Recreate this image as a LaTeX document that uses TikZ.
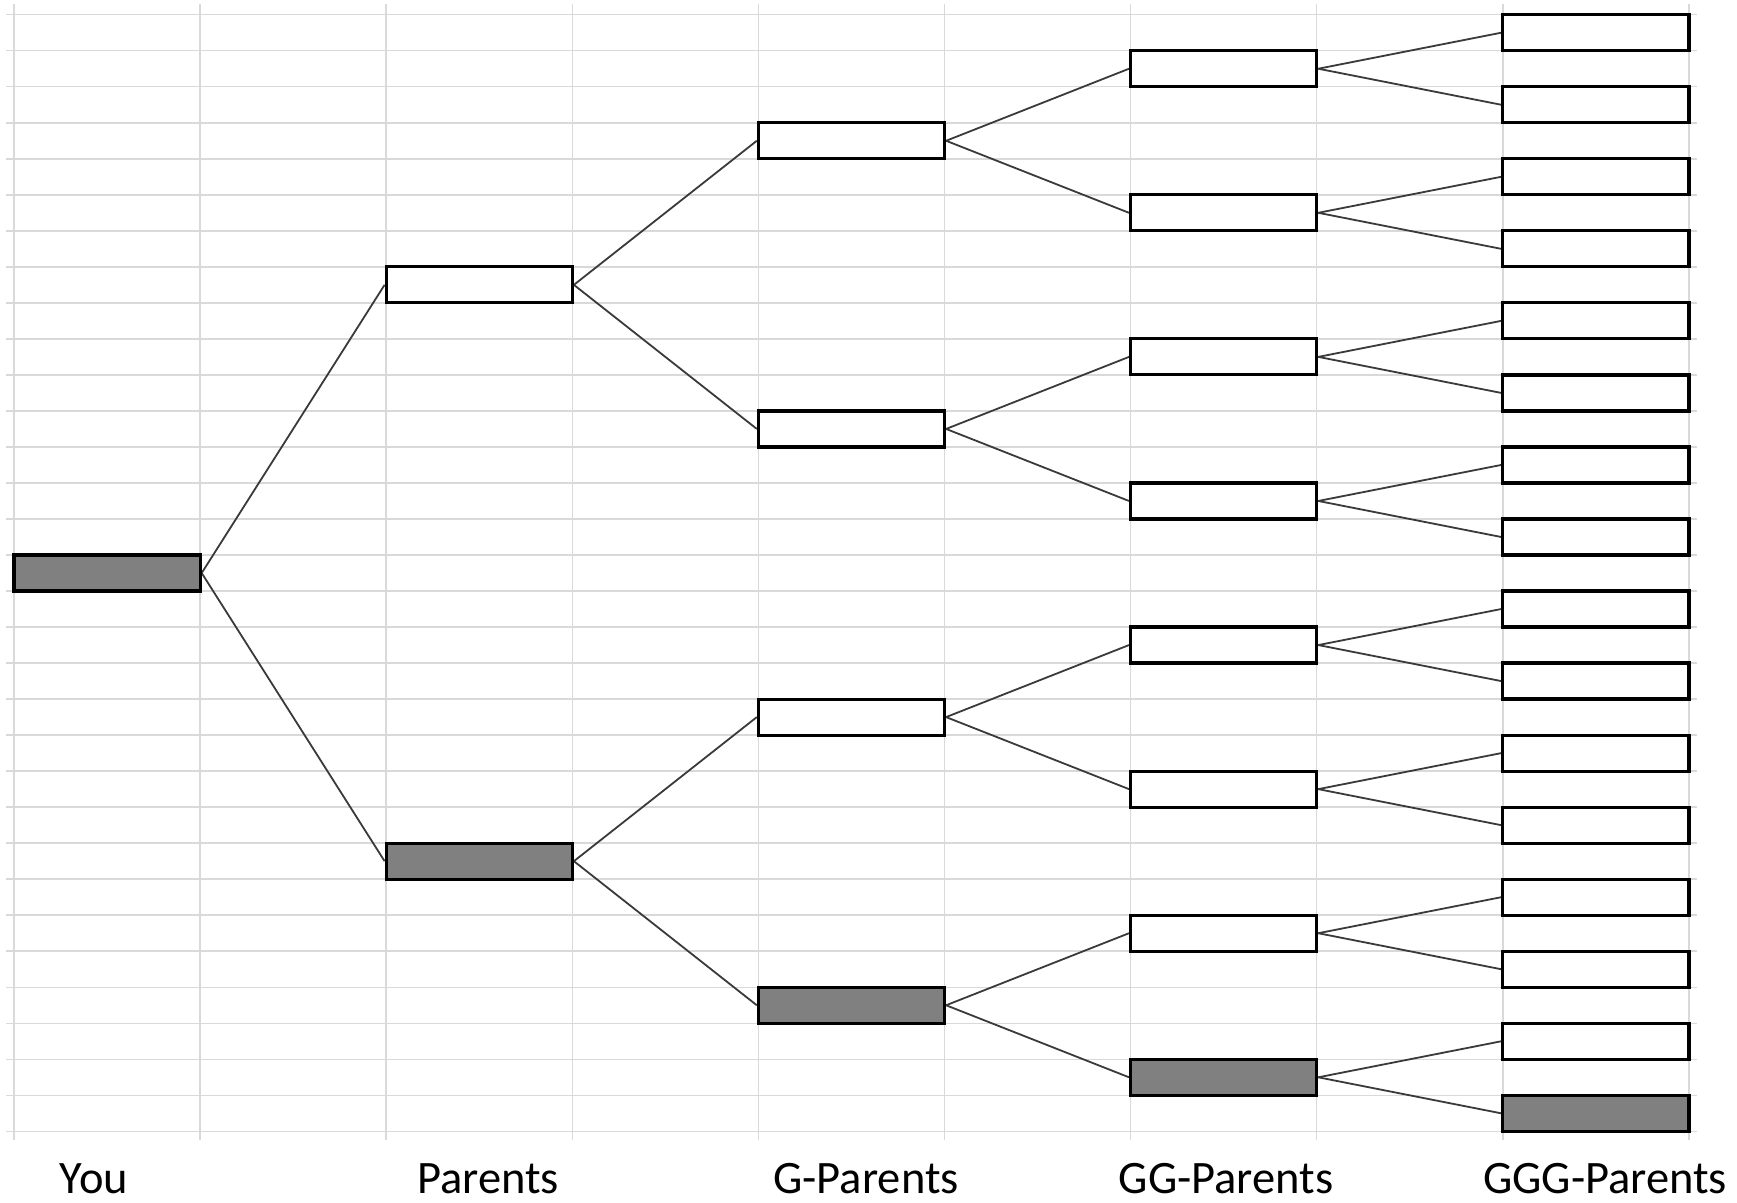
\documentclass[tikz,border=0pt]{standalone}
\usepackage{fontspec}
\setmainfont{Carlito}
\usetikzlibrary{backgrounds}
\definecolor{gridgray}{HTML}{D9D9D9}
\definecolor{boxgray}{HTML}{808080}
\definecolor{linkgray}{HTML}{3A3A3A}
\begin{document}
\begin{tikzpicture}[x=1pt,y=-1pt,
  gridline/.style={draw=gridgray,line width=1.5pt},
  cell/.style={draw=black,line width=3.2pt,minimum width=186.1pt,minimum height=36pt,inner sep=0pt,fill=white},
  filled/.style={cell,fill=boxgray},
  link/.style={draw=linkgray,line width=1.8pt},
  lbl/.style={font=\fontsize{46.5}{50}\selectfont,anchor=base,inner sep=0pt,text depth=0pt}]
\useasboundingbox (0,0) rectangle (1737,1202);
% boxes
\node[filled] (you) at (107.05,573.01) {};
\node[cell] (p0) at (479.25,284.85) {};
\node[filled] (p1) at (479.25,861.17) {};
\foreach \i in {0,1,2} \node[cell] (g\i) at (851.45,{140.77+288.16*\i}) {};
\node[filled] (g3) at (851.45,{140.77+288.16*3}) {};
\foreach \i in {0,...,6} \node[cell] (gg\i) at (1223.65,{68.73+144.08*\i}) {};
\node[filled] (gg7) at (1223.65,{68.73+144.08*7}) {};
\foreach \i in {0,...,14} \node[cell] (ggg\i) at (1595.85,{32.71+72.04*\i}) {};
\node[filled] (ggg15) at (1595.85,{32.71+72.04*15}) {};
% labels
\node[lbl] (lyou) at (94,1193) {You};
\node[lbl] (lpar) at (488,1193) {Parents};
\node[lbl] (lg) at (866,1193) {G-Parents};
\node[lbl] (lgg) at (1226,1193) {GG-Parents};
\node[lbl] (lggg) at (1605,1193) {GGG-Parents};
\begin{pgfonlayer}{background}
\fill[white] (0,0) rectangle (1737,1202);
\foreach \j in {0,...,31} \draw[gridline] (6,{14.7+36.02*\j}) -- (1697,{14.7+36.02*\j});
\foreach \i in {0,...,9} \draw[gridline] ({14+186.1*\i},4) -- ({14+186.1*\i},1140);
\draw[link] (you.east) -- (p0.west);
\draw[link] (you.east) -- (p1.west);
\foreach \i in {0,1} {
  \pgfmathtruncatemacro\ca{2*\i}
  \pgfmathtruncatemacro\cb{2*\i+1}
  \draw[link] (p\i.east) -- (g\ca.west);
  \draw[link] (p\i.east) -- (g\cb.west);
}
\foreach \i in {0,...,3} {
  \pgfmathtruncatemacro\ca{2*\i}
  \pgfmathtruncatemacro\cb{2*\i+1}
  \draw[link] (g\i.east) -- (gg\ca.west);
  \draw[link] (g\i.east) -- (gg\cb.west);
}
\foreach \i in {0,...,7} {
  \pgfmathtruncatemacro\ca{2*\i}
  \pgfmathtruncatemacro\cb{2*\i+1}
  \draw[link] (gg\i.east) -- (ggg\ca.west);
  \draw[link] (gg\i.east) -- (ggg\cb.west);
}
\end{pgfonlayer}
\end{tikzpicture}
\end{document}
